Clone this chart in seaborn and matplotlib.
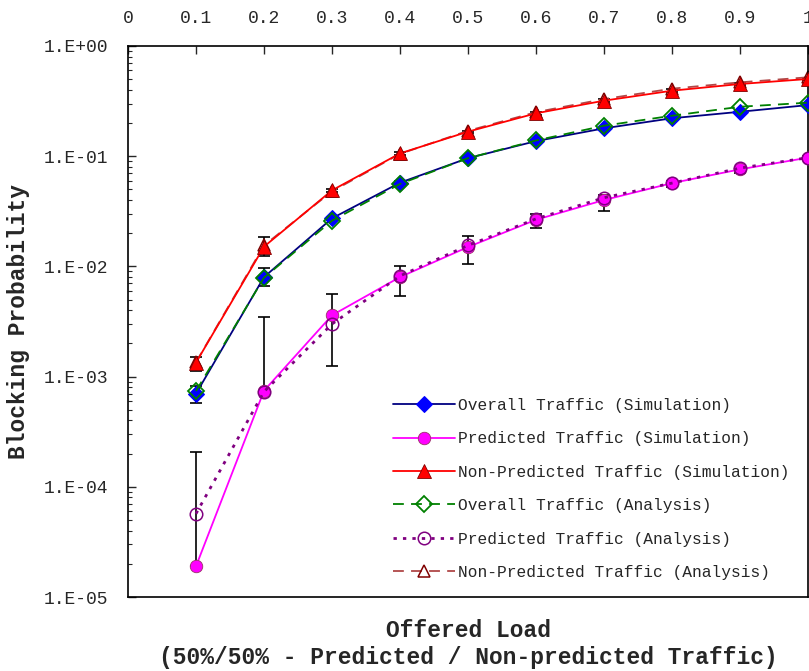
import numpy as np
import pandas as pd
import matplotlib
matplotlib.use('Agg')
import matplotlib.pyplot as plt
import matplotlib.ticker as mticker
import seaborn as sns

# offered load (x) and blocking probabilities
load = [0.1, 0.2, 0.3, 0.4, 0.5, 0.6, 0.7, 0.8, 0.9, 1.0]
overall_sim = [7.0e-4, 8.0e-3, 2.73e-2, 5.75e-2, 0.096, 0.137, 0.179, 0.221, 0.253, 0.291]
pred_sim = [1.9e-5, 7.45e-4, 3.6e-3, 8.0e-3, 1.5e-2, 2.65e-2, 4.0e-2, 5.7e-2, 7.6e-2, 0.097]
nonpred_sim = [1.34e-3, 1.51e-2, 4.9e-2, 0.106, 0.167, 0.245, 0.319, 0.393, 0.452, 0.502]
overall_ana = [7.4e-4, 7.9e-3, 2.6e-2, 5.6e-2, 0.096, 0.139, 0.189, 0.233, 0.281, 0.306]
pred_ana = [5.7e-5, 7.3e-4, 3.0e-3, 8.2e-3, 1.55e-2, 2.7e-2, 4.2e-2, 5.7e-2, 7.8e-2, 0.097]
nonpred_ana = [1.35e-3, 1.55e-2, 4.8e-2, 0.105, 0.17, 0.251, 0.330, 0.410, 0.468, 0.520]

# error bar bounds of the simulation runs (nan = lower bound below zero, not drawn)
overall_lo = [5.8e-4, 6.6e-3, 2.65e-2, 5.6e-2, 0.094, 0.134, 0.176, 0.217, 0.249, 0.287]
overall_hi = [8.2e-4, 9.7e-3, 2.8e-2, 5.9e-2, 0.098, 0.140, 0.182, 0.225, 0.257, 0.295]
pred_lo = [np.nan, np.nan, 1.26e-3, 5.4e-3, 1.05e-2, 2.25e-2, 3.2e-2, 5.3e-2, 7.0e-2, 0.093]
pred_hi = [2.06e-4, 3.5e-3, 5.6e-3, 1.01e-2, 1.89e-2, 3.0e-2, 4.45e-2, 6.0e-2, 8.0e-2, 0.101]
nonpred_lo = [1.13e-3, 1.25e-2, 4.75e-2, 0.103, 0.163, 0.238, 0.31, 0.382, 0.44, 0.49]
nonpred_hi = [1.51e-3, 1.84e-2, 5.05e-2, 0.109, 0.171, 0.252, 0.328, 0.404, 0.464, 0.514]

xtick_labels = ['0', '0.1', '0.2', '0.3', '0.4', '0.5', '0.6', '0.7', '0.8', '0.9', '1']

sns.set_style('white')
plt.rcParams['font.family'] = ['Liberation Mono', 'DejaVu Sans Mono']

fig = plt.figure(figsize=(8.09, 6.71), dpi=100)
ax = fig.add_axes([128 / 809, 1 - 597 / 671, 680 / 809, 551 / 671])


def err(vals, lo, hi):
    v = np.array(vals)
    lo = np.array(lo, dtype=float)
    lo = np.where(np.isnan(lo), v, lo)
    return [v - lo, np.array(hi) - v]


for vals, lo, hi in [(overall_sim, overall_lo, overall_hi),
                     (pred_sim, pred_lo, pred_hi),
                     (nonpred_sim, nonpred_lo, nonpred_hi)]:
    ax.errorbar(load, vals, yerr=err(vals, lo, hi), fmt='none', ecolor='black',
                elinewidth=1.2, capsize=4, capthick=1.2, zorder=2)

series = [
    (overall_sim, 'Overall Traffic (Simulation)', 3, dict(color='#000080', linestyle='-', marker='D', markersize=8,
                                                           markerfacecolor='#0000FF', markeredgecolor='#0000FF')),
    (pred_sim, 'Predicted Traffic (Simulation)', 3, dict(color='#FF00FF', linestyle='-', marker='o', markersize=9,
                                                          markerfacecolor='#FF00FF', markeredgecolor='#993366', markeredgewidth=0.6)),
    (nonpred_sim, 'Non-Predicted Traffic (Simulation)', 3, dict(color='#FF0000', linestyle='-', marker='^', markersize=10,
                                                                 markerfacecolor='#FF0000', markeredgecolor='#800000', markeredgewidth=0.6)),
    (overall_ana, 'Overall Traffic (Analysis)', 4, dict(color='#008000', linestyle=(0, (6, 4)), marker='D', markersize=8,
                                                         markerfacecolor='none', markeredgecolor='#008000', markeredgewidth=1.3)),
    (pred_ana, 'Predicted Traffic (Analysis)', 4, dict(color='#800080', linestyle=(0, (1.2, 2.2)), linewidth=2, marker='o', markersize=9,
                                                        markerfacecolor='none', markeredgecolor='#800080', markeredgewidth=1.1)),
    (nonpred_ana, 'Non-Predicted Traffic (Analysis)', 2.5, dict(color='#B04848', linestyle=(0, (6, 4)), marker='^', markersize=9,
                                                                 markerfacecolor='none', markeredgecolor='#800000', markeredgewidth=1.1)),
]
for vals, name, z, kw in series:
    df = pd.DataFrame({'load': load, 'p': vals})
    kw.setdefault('linewidth', 1.3)
    sns.lineplot(data=df, x='load', y='p', ax=ax, label=name, errorbar=None, zorder=z, **kw)

ax.set_yscale('log')
ax.set_ylim(1e-5, 1)
ax.set_xlim(0, 1)
ax.set_xticks(np.arange(0, 1.01, 0.1))
ax.set_xticklabels(xtick_labels)
ax.xaxis.tick_top()
ax.yaxis.set_major_formatter(mticker.FuncFormatter(lambda v, p: '1.E%+03d' % round(np.log10(v))))
ax.yaxis.set_minor_locator(mticker.LogLocator(base=10, subs=np.arange(2, 10)))
ax.yaxis.set_minor_formatter(mticker.NullFormatter())
ax.tick_params(axis='x', which='both', direction='in', length=6, width=1, pad=14, labelsize=13, top=True, bottom=False)
ax.tick_params(axis='y', which='major', direction='in', length=6, width=1, pad=14, labelsize=13, left=True)
ax.tick_params(axis='y', which='minor', direction='in', length=3, width=0.8, left=True)
for s in ax.spines.values():
    s.set_color('black')
    s.set_linewidth(1.2)

ax.set_xlabel('Offered Load\n(50%/50% - Predicted / Non-predicted Traffic)', fontsize=16.5,
              fontweight='bold', labelpad=16, linespacing=1.2)
ax.xaxis.set_label_position('bottom')
ax.set_ylabel('Blocking Probability', fontsize=16.5, fontweight='bold', labelpad=10)

ax.legend(loc='upper left', bbox_to_anchor=(0.39, 0.361), frameon=False, fontsize=11.7,
          handlelength=3.8, handletextpad=0.2, labelspacing=1.13, borderpad=0, borderaxespad=0,
          numpoints=1)

fig.savefig('out.png', dpi=100)
